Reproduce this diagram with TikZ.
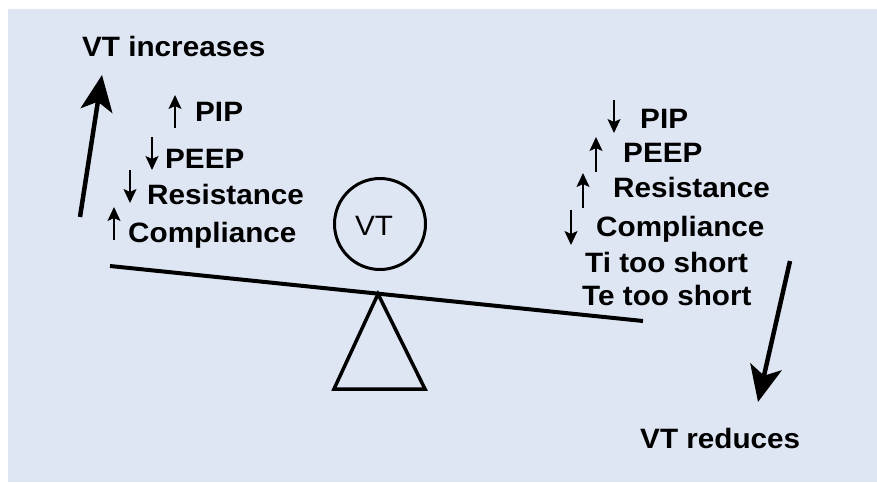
\documentclass[tikz,border=0pt]{standalone}
\usepackage{fontspec}
\setmainfont{Liberation Sans}[FakeStretch=1.06]
\usetikzlibrary{arrows.meta}
\definecolor{panel}{RGB}{223,230,243}
\begin{document}
\begin{tikzpicture}[
    x=1pt, y=-1pt,
    lbl/.style={anchor=base west, inner sep=0pt,
                font=\fontsize{28}{33}\selectfont\bfseries},
    big/.style={-{Stealth[length=36pt, width=32pt, inset=9pt]}, line width=4.5pt},
    small/.style={-{Stealth[length=14pt, width=13pt, inset=3pt]}, line width=1.5pt},
    part/.style={line width=3.5pt, line join=miter}
]
\useasboundingbox (0,0) rectangle (877,482);
\fill[panel] (8,9) rectangle (877,482);

% left side
\node[lbl] (inc) at (82,56) {VT increases};
\node[lbl] (pipL) at (195,121) {PIP};
\node[lbl] (peepL) at (165,168) {PEEP};
\node[lbl] (resL) at (147,204) {Resistance};
\node[lbl] (compL) at (128,242) {Compliance};

% right side
\node[lbl] (pipR) at (640,128) {PIP};
\node[lbl] (peepR) at (623,162) {PEEP};
\node[lbl] (resR) at (613,197) {Resistance};
\node[lbl] (compR) at (596,236) {Compliance};
\node[lbl] (ti) at (585,272) {Ti too short};
\node[lbl] (te) at (582,305) {Te too short};
\node[lbl] (red) at (640,448) {VT reduces};

% balance
\node[circle, draw, line width=3pt, minimum size=91pt, inner sep=0pt] (vt) at (380,224) {};
\node[anchor=base, inner sep=0pt, font=\fontsize{28}{33}\selectfont] (vtl) at (374,235) {VT};
\coordinate (beamL) at (110,266);
\coordinate (beamR) at (643,321);
\coordinate (apex) at (378,294);
\coordinate (footL) at (334,389);
\coordinate (footR) at (425,389);
\draw[line width=4pt] (beamL) -- (beamR);
\draw[part] (apex) -- (footR) -- (footL) -- cycle;

% big arrows
\coordinate (upS) at (80,217);
\coordinate (upE) at (102,75);
\coordinate (dnS) at (790,261);
\coordinate (dnE) at (758,402);
\draw[big] (upS) -- (upE);
\draw[big] (dnS) -- (dnE);

% small arrows, left
\coordinate (a1) at (175,128); \coordinate (b1) at (175,95);
\coordinate (a2) at (152,137); \coordinate (b2) at (152,170);
\coordinate (a3) at (130,170); \coordinate (b3) at (130,203);
\coordinate (a4) at (114,240); \coordinate (b4) at (114,207);
\draw[small] (a1) -- (b1);
\draw[small] (a2) -- (b2);
\draw[small] (a3) -- (b3);
\draw[small] (a4) -- (b4);

% small arrows, right
\coordinate (c1) at (614,100); \coordinate (d1) at (614,133);
\coordinate (c2) at (596,172); \coordinate (d2) at (596,137);
\coordinate (c3) at (583,208); \coordinate (d3) at (583,173);
\coordinate (c4) at (571,210); \coordinate (d4) at (571,245);
\draw[small] (c1) -- (d1);
\draw[small] (c2) -- (d2);
\draw[small] (c3) -- (d3);
\draw[small] (c4) -- (d4);
\end{tikzpicture}
\end{document}
